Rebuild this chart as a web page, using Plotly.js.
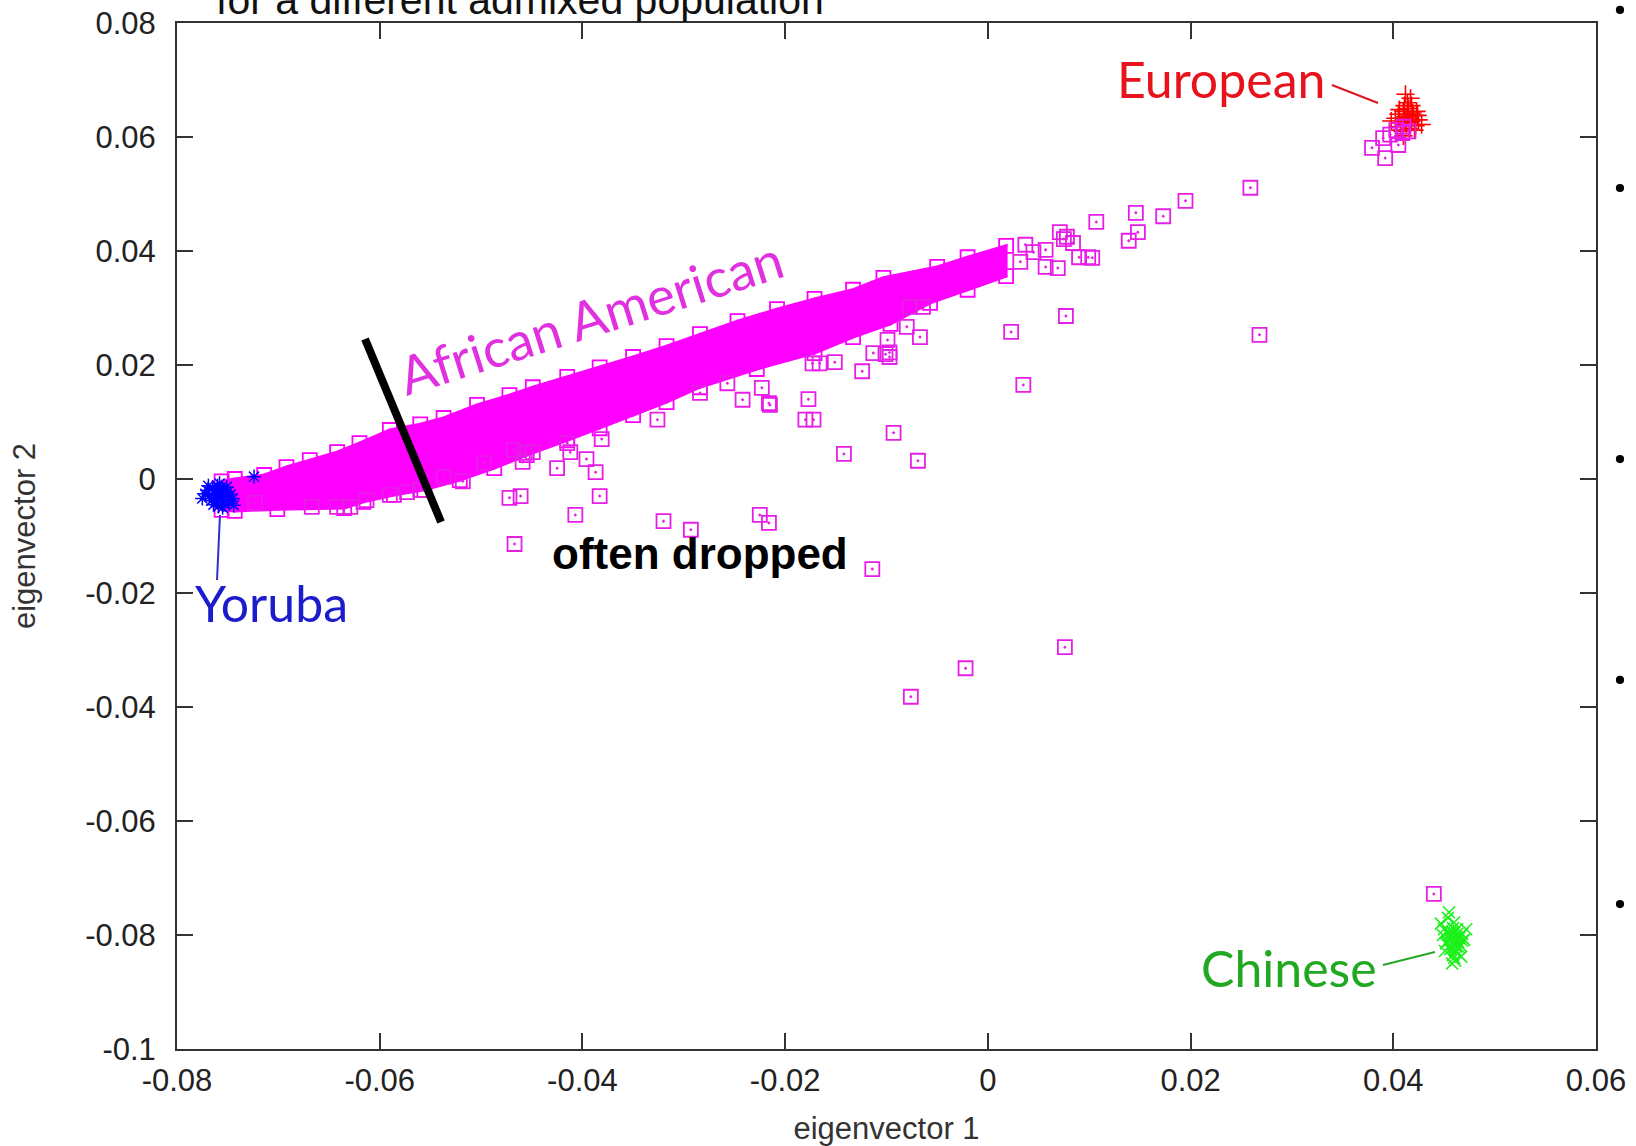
<!DOCTYPE html>
<html>
<head>
<meta charset="utf-8">
<script src="https://cdn.plot.ly/plotly-3.0.1.min.js"></script>
<style>html,body{margin:0;padding:0;background:#fff;}#chart{width:1636px;height:1146px;}</style>
</head>
<body>
<div id="chart"></div>
<script>
// ---- tick labels ----
const xTickVals = [-0.08, -0.06, -0.04, -0.02, 0, 0.02, 0.04, 0.06];
const xTickText = ['-0.08', '-0.06', '-0.04', '-0.02', '0', '0.02', '0.04', '0.06'];
const yTickVals = [-0.1, -0.08, -0.06, -0.04, -0.02, 0, 0.02, 0.04, 0.06, 0.08];
const yTickText = ['-0.1', '-0.08', '-0.06', '-0.04', '-0.02', '0', '0.02', '0.04', '0.06', '0.08'];

// ---- African American: dense band (upper and lower edge samples of the solid mass) ----
const afrUpperX = [-0.0756, -0.0743, -0.0714, -0.0692, -0.0669, -0.0642, -0.0620, -0.0590, -0.0560, -0.0537, -0.0504, -0.0472, -0.0449, -0.0415, -0.0383, -0.0350, -0.0317, -0.0284, -0.0247, -0.0208, -0.0171, -0.0133, -0.0103, -0.0050, -0.0020, 0.0018];
const afrUpperY = [-0.0004, 0.0000, 0.0007, 0.0021, 0.0033, 0.0047, 0.0063, 0.0086, 0.0096, 0.0107, 0.0130, 0.0147, 0.0161, 0.0179, 0.0196, 0.0214, 0.0233, 0.0254, 0.0277, 0.0298, 0.0316, 0.0332, 0.0353, 0.0372, 0.0389, 0.0409];
const afrLowerX = [-0.0756, -0.0743, -0.0701, -0.0635, -0.0616, -0.0586, -0.0556, -0.0521, -0.0487, -0.0455, -0.0415, -0.0383, -0.0350, -0.0317, -0.0284, -0.0228, -0.0171, -0.0133, -0.0096, -0.0057, -0.0020, 0.0018];
const afrLowerY = [-0.0054, -0.0056, -0.0053, -0.0051, -0.0040, -0.0028, -0.0019, -0.0002, 0.0019, 0.0042, 0.0068, 0.0089, 0.0112, 0.0135, 0.0161, 0.0193, 0.0221, 0.0249, 0.0272, 0.0309, 0.0332, 0.0356];

// ---- African American: individually visible samples ----
const afrOutX = [0.0259, 0.0195, 0.0173, 0.0146, 0.0148, 0.0139, 0.0107, 0.0075, 0.0099, 0.0268,
  0.0077, 0.0023, 0.0035, -0.0069, -0.0093, -0.0142, -0.0114, 0.0076, -0.0022, -0.0076,
  0.0440, -0.0216, -0.0177, -0.0172, -0.0180, -0.0124, -0.0101, -0.0097, -0.0225, -0.0216,
  -0.0293, -0.0320, -0.0407, -0.0467, -0.0472, -0.0461, -0.0383, -0.0387, -0.0425, -0.0396,
  -0.0381, -0.0326, -0.0518, -0.0457, -0.0449, -0.0099, -0.0067, -0.0080, -0.0097, -0.0113,
  -0.0151, -0.0173, -0.0166, -0.0223, -0.0242, -0.0215, -0.0284, -0.0257, -0.0415, -0.0412,
  -0.0459, -0.0468, -0.0497, -0.0667, -0.0642, -0.0629, -0.0613, -0.0590, -0.0573, -0.0560,
  -0.0537, -0.0723, -0.0077, -0.0064, 0.0071, 0.0078, 0.0084, 0.0090, 0.0103, 0.0069,
  0.0057, 0.0045, 0.0037, 0.0057, 0.0032,
  0.0379, 0.0392, 0.0390, 0.0405, 0.0409, 0.0397, 0.0410, 0.0403, 0.0415];
const afrOutY = [0.0511, 0.0488, 0.0461, 0.0467, 0.0433, 0.0418, 0.0451, 0.0421, 0.0389, 0.0253,
  0.0286, 0.0258, 0.0165, 0.0032, 0.0081, 0.0044, -0.0158, -0.0295, -0.0332, -0.0382,
  -0.0728, 0.0133, 0.0140, 0.0104, 0.0104, 0.0189, 0.0219, 0.0222, -0.0063, -0.0077,
  -0.0089, -0.0074, -0.0063, -0.0114, -0.0033, -0.0030, -0.0030, 0.0012, 0.0019, 0.0035,
  0.0070, 0.0104, -0.0004, 0.0046, 0.0047, 0.0244, 0.0249, 0.0267, 0.0214, 0.0221,
  0.0205, 0.0203, 0.0203, 0.0160, 0.0139, 0.0130, 0.0151, 0.0168, 0.0063, 0.0047,
  0.0030, 0.0051, 0.0028, -0.0049, -0.0049, -0.0049, -0.0037, -0.0028, -0.0023, -0.0019,
  0.0004, -0.0042, 0.0302, 0.0302, 0.0433, 0.0425, 0.0414, 0.0389, 0.0388, 0.0370,
  0.0402, 0.0398, 0.0411, 0.0372, 0.0381,
  0.0581, 0.0563, 0.0598, 0.0586, 0.0607, 0.0604, 0.0618, 0.0612, 0.0610];

// ---- Yoruba ----
const yorX = [-0.0770, -0.0765, -0.0760, -0.0755, -0.0750, -0.0768, -0.0762, -0.0757, -0.0752, -0.0747, -0.0772, -0.0766, -0.0761, -0.0756, -0.0749, -0.0764, -0.0759, -0.0753, -0.0745, -0.0769, -0.0758, -0.0751, -0.0763, -0.0755, -0.0775, -0.0744, -0.0760, -0.0724];
const yorY = [-0.0020, -0.0015, -0.0012, -0.0018, -0.0022, -0.0030, -0.0028, -0.0025, -0.0032, -0.0027, -0.0026, -0.0038, -0.0040, -0.0035, -0.0038, -0.0045, -0.0048, -0.0044, -0.0034, -0.0012, -0.0008, -0.0014, -0.0020, -0.0050, -0.0034, -0.0046, -0.0033, 0.0004];

// ---- European ----
const eurX = [0.0405, 0.0410, 0.0415, 0.0420, 0.0412, 0.0408, 0.0418, 0.0422, 0.0414, 0.0402, 0.0425, 0.0411, 0.0416, 0.0406, 0.0419, 0.0413, 0.0409, 0.0421, 0.0417, 0.0404, 0.0428, 0.0412, 0.0398, 0.0415, 0.0410, 0.0423, 0.0407, 0.0414, 0.0418, 0.0411, 0.0424, 0.0416];
const eurY = [0.0640, 0.0645, 0.0650, 0.0638, 0.0632, 0.0625, 0.0628, 0.0620, 0.0660, 0.0633, 0.0630, 0.0655, 0.0615, 0.0648, 0.0642, 0.0622, 0.0610, 0.0612, 0.0668, 0.0618, 0.0622, 0.0675, 0.0628, 0.0636, 0.0602, 0.0645, 0.0612, 0.0640, 0.0655, 0.0635, 0.0638, 0.0626];

// ---- Chinese ----
const chiX = [0.0450, 0.0455, 0.0460, 0.0465, 0.0458, 0.0452, 0.0462, 0.0468, 0.0456, 0.0447, 0.0470, 0.0459, 0.0463, 0.0454, 0.0466, 0.0461, 0.0457, 0.0451, 0.0464, 0.0449, 0.0472, 0.0460, 0.0455, 0.0462, 0.0458, 0.0453, 0.0467, 0.0460, 0.0463, 0.0457, 0.0465, 0.0459, 0.0461, 0.0456, 0.0468, 0.0462, 0.0454, 0.0460];
const chiY = [-0.0790, -0.0800, -0.0810, -0.0805, -0.0795, -0.0815, -0.0820, -0.0798, -0.0825, -0.0780, -0.0808, -0.0835, -0.0790, -0.0770, -0.0818, -0.0845, -0.0802, -0.0828, -0.0812, -0.0800, -0.0790, -0.0778, -0.0760, -0.0830, -0.0850, -0.0812, -0.0838, -0.0815, -0.0798, -0.0808, -0.0822, -0.0788, -0.0826, -0.0818, -0.0810, -0.0804, -0.0795, -0.0840];

const MAG = '#ff00ff';
const SQ = '#e61ee6';
const polyX = afrUpperX.concat(afrLowerX.slice().reverse());
const polyY = afrUpperY.concat(afrLowerY.slice().reverse());

const traces = [
  {x: eurX, y: eurY, type: 'scatter', mode: 'markers', hoverinfo: 'skip',
   marker: {symbol: 'cross-thin', size: 13, color: '#ff0000', line: {color: '#ff0000', width: 1.6}}},
  {x: chiX, y: chiY, type: 'scatter', mode: 'markers', hoverinfo: 'skip',
   marker: {symbol: 'x-thin', size: 12, color: '#1cf01c', line: {color: '#1cf01c', width: 1.6}}},
  {x: polyX, y: polyY, type: 'scatter', mode: 'lines', fill: 'toself', hoverinfo: 'skip',
   fillcolor: MAG, line: {color: MAG, width: 3}},
  {x: afrUpperX.concat(afrLowerX), y: afrUpperY.concat(afrLowerY), type: 'scatter', mode: 'markers', hoverinfo: 'skip',
   marker: {symbol: 'square-open-dot', size: 14, color: MAG, line: {color: MAG, width: 1.8}}},
  {x: afrOutX, y: afrOutY, type: 'scatter', mode: 'markers', hoverinfo: 'skip',
   marker: {symbol: 'square-open-dot', size: 14, color: SQ, line: {color: SQ, width: 1.8}}},
  {x: yorX, y: yorY, type: 'scatter', mode: 'markers', hoverinfo: 'skip',
   marker: {symbol: 'asterisk-open', size: 12, color: '#0000ff', line: {color: '#0000ff', width: 1.5}}}
];

const axisCommon = {
  showgrid: false, zeroline: false, showline: true, linecolor: '#333', linewidth: 2,
  mirror: 'allticks', ticks: 'inside', ticklen: 16, tickwidth: 2, tickcolor: '#333',
  tickmode: 'array', tickfont: {family: 'Liberation Sans, Arial, sans-serif', size: 31, color: '#222'},
  fixedrange: true
};

const bulletY = [1.0127, 0.8392, 0.5750, 0.3597, 0.1413];
const shapes = [
  // black separator line
  {type: 'line', xref: 'x', yref: 'y', x0: -0.06145, y0: 0.02456, x1: -0.05395, y1: -0.00754, line: {color: '#000', width: 8}},
  // leader lines
  {type: 'line', xref: 'x', yref: 'y', x0: 0.03395, y0: 0.06912, x1: 0.03849, y1: 0.06596, line: {color: '#d81820', width: 2}},
  {type: 'line', xref: 'x', yref: 'y', x0: -0.07576, y0: -0.00632, x1: -0.07605, y1: -0.01772, line: {color: '#3030c8', width: 2}},
  {type: 'line', xref: 'x', yref: 'y', x0: 0.03898, y0: -0.08527, x1: 0.04411, y1: -0.08298, line: {color: '#28a828', width: 2}}
];
bulletY.forEach(function (by) {
  shapes.push({type: 'circle', xref: 'paper', yref: 'paper', x0: 1.0169 - 0.0029, x1: 1.0169 + 0.0029,
    y0: by - 0.0040, y1: by + 0.0040, fillcolor: '#000', line: {color: '#000', width: 0}});
});

const annotations = [
  {text: 'for a different admixed population', xref: 'paper', yref: 'paper', x: 0.2417, y: 1.0224,
   xanchor: 'center', yanchor: 'middle', showarrow: false,
   font: {family: 'Liberation Sans, Arial, sans-serif', size: 41, color: '#111'}},
  {text: 'European', xref: 'paper', yref: 'paper', x: 0.7357, y: 0.9454, xanchor: 'center', yanchor: 'middle',
   showarrow: false, font: {family: 'Lato, Open Sans, sans-serif', size: 50, color: '#e8121c'}},
  {text: 'Yoruba', xref: 'paper', yref: 'paper', x: 0.0669, y: 0.4347, xanchor: 'center', yanchor: 'middle',
   showarrow: false, font: {family: 'Lato, Open Sans, sans-serif', size: 50, color: '#1c1ccc'}},
  {text: 'Chinese', xref: 'paper', yref: 'paper', x: 0.7837, y: 0.0789, xanchor: 'center', yanchor: 'middle',
   showarrow: false, font: {family: 'Lato, Open Sans, sans-serif', size: 50, color: '#20a820'}},
  {text: 'African American', xref: 'paper', yref: 'paper', x: 0.2911, y: 0.7144, xanchor: 'center', yanchor: 'middle',
   textangle: -17.5, showarrow: false, font: {family: 'Lato, Open Sans, sans-serif', size: 53, color: '#e030e0'}},
  {text: 'often dropped', xref: 'paper', yref: 'paper', x: 0.3686, y: 0.4834, xanchor: 'center', yanchor: 'middle',
   showarrow: false, font: {family: 'Liberation Sans, Arial, sans-serif', size: 44, color: '#000', weight: 'bold'}}
];

const layout = {
  width: 1636, height: 1146,
  margin: {l: 177, r: 40, t: 23, b: 97, pad: 0},
  paper_bgcolor: '#ffffff', plot_bgcolor: '#ffffff',
  showlegend: false,
  xaxis: Object.assign({}, axisCommon, {
    range: [-0.08, 0.06], tickvals: xTickVals, ticktext: xTickText, ticklabelstandoff: 3,
    title: {text: 'eigenvector 1', standoff: 27, font: {family: 'Liberation Sans, Arial, sans-serif', size: 31, color: '#333'}}
  }),
  yaxis: Object.assign({}, axisCommon, {
    range: [-0.1, 0.08], tickvals: yTickVals, ticktext: yTickText, ticklabelstandoff: 13,
    title: {text: 'eigenvector 2', standoff: 40, font: {family: 'Liberation Sans, Arial, sans-serif', size: 31, color: '#333'}}
  }),
  shapes: shapes,
  annotations: annotations
};

Plotly.newPlot('chart', traces, layout, {displayModeBar: false, staticPlot: true});
</script>
</body>
</html>
